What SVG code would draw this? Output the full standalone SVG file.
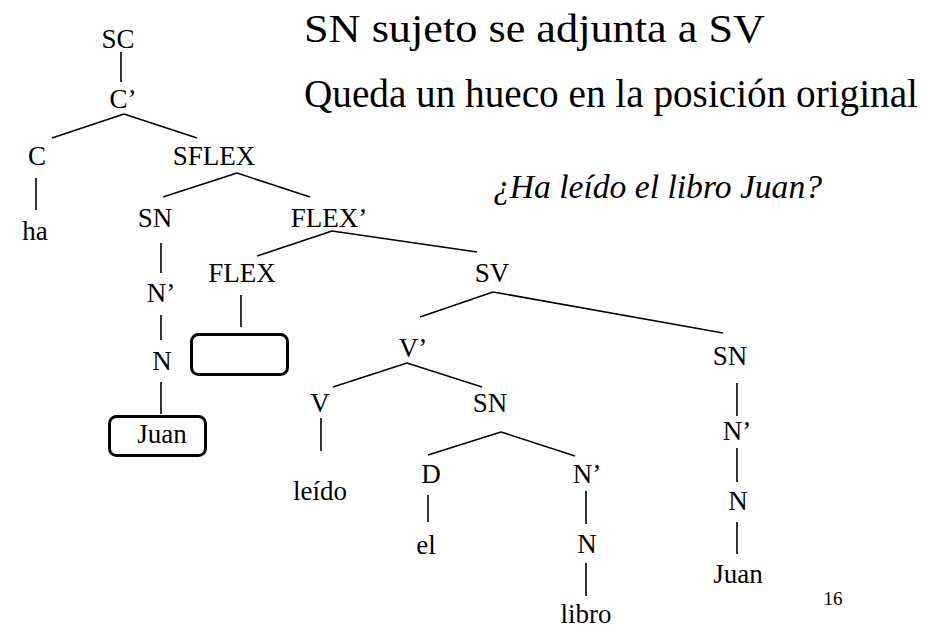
<svg xmlns="http://www.w3.org/2000/svg" width="945" height="628" viewBox="0 0 945 628" font-family="Liberation Serif, DejaVu Serif, Times New Roman, Times, serif">
<style>
.t{font-size:27px;text-anchor:middle}
.h{font-size:40px}
.i{font-size:34px;font-style:italic}
.pg{font-size:19px;text-anchor:middle}
#edges line{stroke:#000;stroke-width:1.6}
.box{fill:none;stroke:#000;stroke-width:3}
</style>
<rect width="945" height="628" fill="#fff"/>
<g id="title" font-family="'Liberation Serif', 'DejaVu Serif', serif">
<text class="h" x="304" y="42" textLength="461" lengthAdjust="spacingAndGlyphs">SN sujeto se adjunta a SV</text>
<text class="h" x="304" y="107" textLength="614" lengthAdjust="spacingAndGlyphs">Queda un hueco en la posición original</text>
<text class="i" x="493" y="198" textLength="329" lengthAdjust="spacingAndGlyphs">¿Ha leído el libro Juan?</text>
</g>
<g id="edges">
<line x1="121" y1="52" x2="121" y2="82"/>
<line x1="124" y1="114" x2="52" y2="138"/>
<line x1="124" y1="114" x2="197" y2="138"/>
<line x1="36" y1="178" x2="36" y2="210"/>
<line x1="237" y1="173" x2="163" y2="197"/>
<line x1="237" y1="173" x2="310" y2="197"/>
<line x1="161" y1="243" x2="161" y2="273"/>
<line x1="161" y1="315" x2="161" y2="340"/>
<line x1="161" y1="382" x2="161" y2="414"/>
<line x1="332" y1="231" x2="257" y2="256"/>
<line x1="332" y1="231" x2="477" y2="252"/>
<line x1="241" y1="295" x2="241" y2="327"/>
<line x1="493" y1="292" x2="420" y2="317"/>
<line x1="493" y1="292" x2="723" y2="333"/>
<line x1="407" y1="363" x2="333" y2="387"/>
<line x1="407" y1="363" x2="482" y2="387"/>
<line x1="321" y1="418" x2="321" y2="451"/>
<line x1="501" y1="432" x2="428" y2="455"/>
<line x1="501" y1="432" x2="575" y2="456"/>
<line x1="428" y1="495" x2="428" y2="522"/>
<line x1="586" y1="491" x2="586" y2="524"/>
<line x1="586" y1="563" x2="586" y2="596"/>
<line x1="737" y1="383" x2="737" y2="416"/>
<line x1="737" y1="448" x2="737" y2="482"/>
<line x1="737" y1="522" x2="737" y2="554"/>
</g>
<g id="n-sc"><text class="t" x="118" y="48">SC</text></g>
<g id="n-cbar"><text class="t" x="123" y="108">C’</text></g>
<g id="n-c"><text class="t" x="37" y="165">C</text></g>
<g id="n-sflex"><text class="t" x="214" y="165">SFLEX</text></g>
<g id="n-ha"><text class="t" x="35" y="240">ha</text></g>
<g id="n-sn1"><text class="t" x="155" y="227">SN</text></g>
<g id="n-flexbar"><text class="t" x="329" y="227">FLEX’</text></g>
<g id="n-nbar1"><text class="t" x="161" y="302">N’</text></g>
<g id="n-n1"><text class="t" x="162" y="370">N</text></g>
<g id="n-juan1"><rect class="box" x="109.5" y="416.5" width="96" height="39" rx="7"/><text class="t" x="162" y="443">Juan</text></g>
<g id="n-flex"><text class="t" x="242" y="282">FLEX</text></g>
<g id="n-gap"><rect class="box" x="191.5" y="334.5" width="96" height="40" rx="7"/></g>
<g id="n-sv"><text class="t" x="492" y="282">SV</text></g>
<g id="n-vbar"><text class="t" x="413" y="357">V’</text></g>
<g id="n-v"><text class="t" x="320" y="412">V</text></g>
<g id="n-sn2"><text class="t" x="490" y="412">SN</text></g>
<g id="n-leido"><text class="t" x="320" y="500">leído</text></g>
<g id="n-d"><text class="t" x="431" y="483">D</text></g>
<g id="n-nbar2"><text class="t" x="587" y="483">N’</text></g>
<g id="n-el"><text class="t" x="426" y="554">el</text></g>
<g id="n-n2"><text class="t" x="587" y="553">N</text></g>
<g id="n-libro"><text class="t" x="586" y="623">libro</text></g>
<g id="n-sn3"><text class="t" x="730" y="365">SN</text></g>
<g id="n-nbar3"><text class="t" x="737" y="440">N’</text></g>
<g id="n-n3"><text class="t" x="738" y="510">N</text></g>
<g id="n-juan2"><text class="t" x="738" y="583">Juan</text></g>
<g id="page"><text class="pg" x="833" y="605">16</text></g>
</svg>
